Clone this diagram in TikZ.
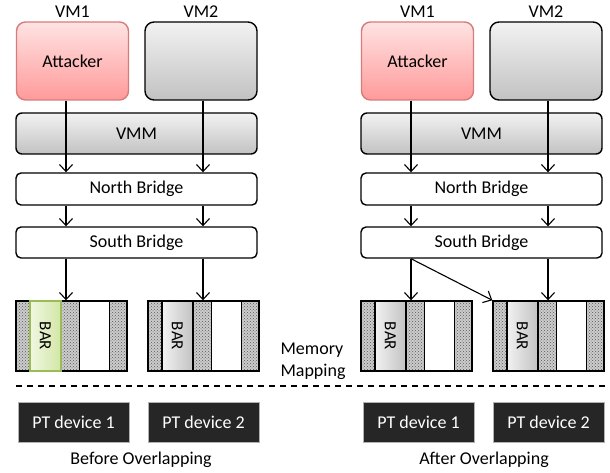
\documentclass[tikz,border=0pt]{standalone}
\usepackage{fontspec}
\setmainfont{Carlito}
\usetikzlibrary{arrows.meta,patterns,positioning}

\definecolor{rojoborde}{HTML}{D77B7D}
\definecolor{rojoarriba}{HTML}{FFE3E3}
\definecolor{rojoabajo}{HTML}{FF9A9A}
\definecolor{verdeborde}{HTML}{9BBB59}
\definecolor{verdearriba}{HTML}{F0F7E2}
\definecolor{verdeabajo}{HTML}{D2E7A6}
\definecolor{grisborde}{HTML}{000000}
\definecolor{grisarriba}{HTML}{F2F2F2}
\definecolor{grisabajo}{HTML}{C2C2C2}
\definecolor{oscuro}{HTML}{262626}

\tikzset{
  vmbox/.style={draw, line width=1.4pt, rounded corners=9pt, minimum width=112pt, minimum height=78pt},
  attbox/.style={vmbox, draw=rojoborde, top color=rojoarriba, bottom color=rojoabajo},
  grisbox/.style={draw, line width=1.4pt, top color=grisarriba, bottom color=grisabajo},
  bridge/.style={draw, line width=1.4pt, rounded corners=5pt, fill=white, minimum width=241pt},
  memblk/.style={draw, line width=1.4pt, preaction={fill=gray!40}, pattern=crosshatch dots,
    pattern color=black!65, minimum width=111pt, minimum height=70pt},
  barbox/.style={line width=1.4pt, rotate=-90, minimum width=70pt, minimum height=31pt,
    inner sep=0pt, font=\fontsize{17}{20}\selectfont},
  hueco/.style={draw, line width=1.4pt, fill=white, minimum width=30pt, minimum height=70pt},
  ptdev/.style={draw=gray!60, line width=1pt, fill=oscuro, text=white, minimum width=111pt,
    minimum height=40pt},
  flecha/.style={-{Straight Barb[length=7pt,width=13pt]}, line width=1.1pt},
}

\begin{document}
\begin{tikzpicture}[x=1pt, y=-1pt, font=\fontsize{18}{22}\selectfont]
\useasboundingbox (0,0) rectangle (610,473);

% Los dos paneles: antes (l) y despues (r)
\foreach \p/\dx/\col in {l/0/verde, r/345/gris} {
  % Maquinas virtuales
  \node[attbox] (att\p) at (\dx+72.5,61) {Attacker};
  \node[vmbox, grisbox, rounded corners=9pt] (vm\p) at (\dx+201,61) {};
  \node[above=0pt of att\p] {VM1};
  \node[above=0pt of vm\p] {VM2};

  % VMM y puentes
  \node[grisbox, rounded corners=6pt, minimum width=241pt, minimum height=41pt] (vmm\p) at (\dx+136.5,133.5) {VMM};
  \node[bridge, minimum height=32pt] (nb\p) at (\dx+136.5,189) {North Bridge};
  \node[bridge, minimum height=31pt] (sb\p) at (\dx+136.5,242.5) {South Bridge};

  % Bloques de memoria
  \node[memblk] (mema\p) at (\dx+71.5,336) {};
  \node[memblk] (memb\p) at (\dx+203.5,336) {};
  \node[barbox, draw=\col borde, left color=\col arriba, right color=\col abajo]
    (bara\p) at ([xshift=30pt]mema\p.west) {BAR};
  \node[barbox, draw=black, left color=grisarriba, right color=grisabajo]
    (barb\p) at ([xshift=30pt]memb\p.west) {BAR};
  \node[hueco] (hua\p) at ([xshift=79pt]mema\p.west) {};
  \node[hueco] (hub\p) at ([xshift=79pt]memb\p.west) {};

  % Dispositivos
  \node[ptdev] (pta\p) at (\dx+73.5,422) {PT device 1};
  \node[ptdev] (ptb\p) at (\dx+203.5,422) {PT device 2};

  % Flechas verticales
  \coordinate (xa\p) at (\dx+66,0);
  \coordinate (xb\p) at (\dx+203,0);
  \draw[flecha] (att\p.south -| xa\p) -- (nb\p.north -| xa\p);
  \draw[flecha] (vm\p.south -| xb\p) -- (nb\p.north -| xb\p);
  \draw[flecha] (nb\p.south -| xa\p) -- (sb\p.north -| xa\p);
  \draw[flecha] (nb\p.south -| xb\p) -- (sb\p.north -| xb\p);
  \draw[flecha] (sb\p.south -| xa\p) -- (mema\p.north -| xa\p);
  \draw[flecha] (sb\p.south -| xb\p) -- (memb\p.north -| xb\p);
}

% Despues del solapamiento: el puerto apunta tambien al segundo BAR
\draw[flecha] (sbr.south -| xar) -- (membr.north west);

% Textos sueltos
\node[align=left, anchor=west] (mapeo) at (277,361) {Memory\\Mapping};
\node (antes) at (141,460) {Before Overlapping};
\node (despues) at (484,460) {After Overlapping};

% Linea de corte
\coordinate (corteL) at (16,386);
\coordinate (corteR) at (612,386);
\draw[dashed, dash pattern=on 6pt off 5pt, line width=1.5pt] (corteL) -- (corteR);
\end{tikzpicture}
\end{document}
